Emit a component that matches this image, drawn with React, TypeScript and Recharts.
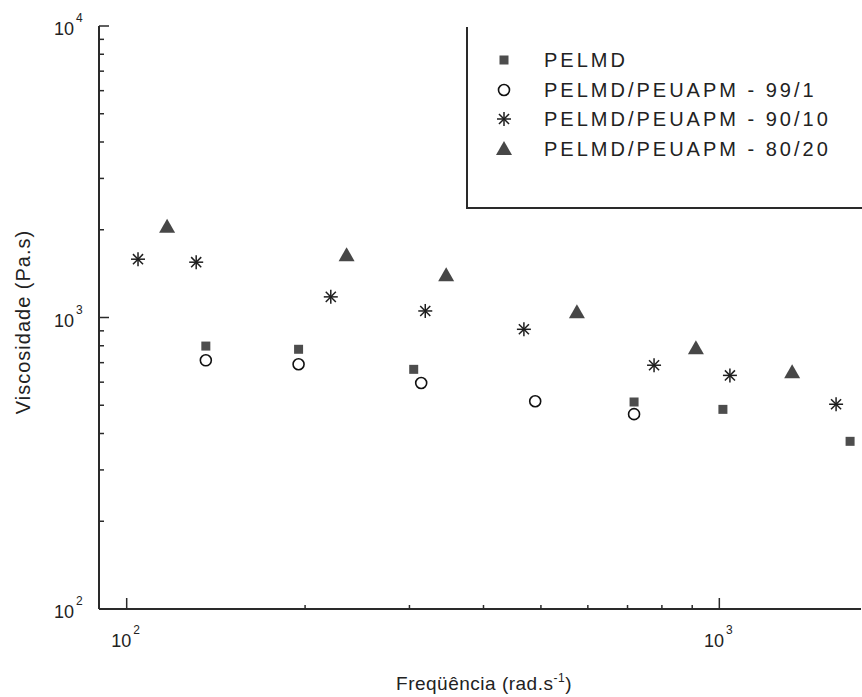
import { Label, Legend, Scatter, ScatterChart, XAxis, YAxis } from 'recharts';

// frequency (rad/s) and viscosity (Pa.s)
const PELMD_X = [136, 195, 305, 718, 1014, 1662];
const PELMD_Y = [798, 778, 664, 513, 484, 376];
const B99_X = [136, 195, 314, 489, 718];
const B99_Y = [713, 691, 596, 516, 466];
const B90_X = [104.5, 131, 221, 319, 468, 776, 1042, 1574];
const B90_Y = [1585, 1548, 1177, 1053, 911, 686, 633, 504];
const B80_X = [117, 235, 346, 575, 913, 1327];
const B80_Y = [2046, 1636, 1396, 1042, 784, 649];

const X_DOMAIN = [89.8, 1734];
const Y_DOMAIN = [100, 10000];
const X_TICKS = [100, 200, 300, 400, 500, 600, 700, 800, 900, 1000];
const Y_TICKS = [100, 200, 300, 400, 500, 600, 700, 800, 900, 1000, 2000, 3000, 4000, 5000, 6000, 7000, 8000, 9000, 10000];

const LABELS = ['PELMD', 'PELMD/PEUAPM - 99/1', 'PELMD/PEUAPM - 90/10', 'PELMD/PEUAPM - 80/20'];

const FONT = '"Liberation Sans", Arial, sans-serif';
const INK = '#2a2a2a';

const zip = (xs: number[], ys: number[]) => xs.map((x, i) => ({ x, y: ys[i] }));

const isMajor = (v: number) => Math.abs(Math.log10(v) - Math.round(Math.log10(v))) < 1e-9;
const exp = (v: number) => String(Math.round(Math.log10(v)));

function Square({ cx, cy }: any) {
  return <rect x={cx - 4.5} y={cy - 4.5} width={9} height={9} fill="#4d4d4d" />;
}
function Ring({ cx, cy }: any) {
  return <circle cx={cx} cy={cy} r={5.5} fill="#fff" stroke="#111" strokeWidth={1.6} />;
}
function Star({ cx, cy }: any) {
  const r = 7;
  const d = r * 0.72;
  return (
    <g stroke="#1e1e1e" strokeWidth={1.5}>
      <line x1={cx} y1={cy - r} x2={cx} y2={cy + r} />
      <line x1={cx - r} y1={cy} x2={cx + r} y2={cy} />
      <line x1={cx - d} y1={cy - d} x2={cx + d} y2={cy + d} />
      <line x1={cx - d} y1={cy + d} x2={cx + d} y2={cy - d} />
    </g>
  );
}
function Tri({ cx, cy }: any) {
  return <path d={`M${cx},${cy - 8} L${cx + 8},${cy + 6} L${cx - 8},${cy + 6} Z`} fill="#474747" />;
}

const SHAPES = [Square, Ring, Star, Tri];

function BottomTick({ x, y, payload }: any) {
  const major = isMajor(payload.value);
  return (
    <g>
      <line x1={x} y1={y} x2={x} y2={y - (major ? 11 : 4)} stroke={INK} strokeWidth={1.5} />
      {major && (
        <text x={x - 1} y={y + 38} textAnchor="middle" fontFamily={FONT} fontSize={18} fill="#222">
          10
          <tspan dx={2} dy={-13} fontSize={12}>{exp(payload.value)}</tspan>
        </text>
      )}
    </g>
  );
}

function TopTick({ x, y, payload }: any) {
  const major = isMajor(payload.value);
  return <line x1={x} y1={y} x2={x} y2={y + (major ? 12 : 6)} stroke={INK} strokeWidth={1.5} />;
}

function LeftTick({ x, y, payload }: any) {
  const major = isMajor(payload.value);
  return (
    <g>
      <line x1={x} y1={y} x2={x + (major ? 10 : 5)} y2={y} stroke={INK} strokeWidth={1.5} />
      {major && (
        <text x={x - 45} y={y + 9} fontFamily={FONT} fontSize={18} fill="#222">
          10
          <tspan dx={2} dy={-13} fontSize={12}>{exp(payload.value)}</tspan>
        </text>
      )}
    </g>
  );
}

function RightTick({ x, y, payload }: any) {
  const major = isMajor(payload.value);
  return <line x1={x} y1={y} x2={x - (major ? 10 : 5)} y2={y} stroke={INK} strokeWidth={1.5} />;
}

function XTitle({ viewBox }: any) {
  const cx = viewBox.x + viewBox.width / 2 + 4;
  return (
    <text x={cx} y={viewBox.y + 81} textAnchor="middle" fontFamily={FONT} fontSize={19} fill="#222" letterSpacing={0.5}>
      Freqüência (rad.s
      <tspan dy={-8} fontSize={12}>-1</tspan>
      <tspan dy={8}>)</tspan>
    </text>
  );
}

function YTitle() {
  return (
    <text
      x={0}
      y={0}
      transform="translate(30, 322) rotate(-90)"
      textAnchor="middle"
      fontFamily={FONT}
      fontSize={20}
      fill="#222"
      letterSpacing={1}
    >
      Viscosidade (Pa.s)
    </text>
  );
}

function LegendBox() {
  return (
    <div
      style={{
        position: 'relative',
        width: 396,
        height: 182,
        borderLeft: `2px solid ${INK}`,
        borderBottom: `2px solid ${INK}`,
        boxSizing: 'border-box',
        background: '#fff',
        fontFamily: FONT,
        fontSize: 20,
        letterSpacing: 3,
        color: '#222',
      }}
    >
      {LABELS.map((label, i) => {
        const Shape = SHAPES[i];
        return (
          <div
            key={label}
            style={{ position: 'absolute', left: 0, top: 18 + i * 29.7, height: 30, display: 'flex', alignItems: 'center', whiteSpace: 'nowrap' }}
          >
            <svg width={76} height={30} style={{ display: 'block' }}>
              <Shape cx={36} cy={15} />
            </svg>
            <span style={{ lineHeight: '30px' }}>{label}</span>
          </div>
        );
      })}
    </div>
  );
}

export default function App() {
  const series = [zip(PELMD_X, PELMD_Y), zip(B99_X, B99_Y), zip(B90_X, B90_Y), zip(B80_X, B80_Y)];
  const axisLine = { stroke: INK, strokeWidth: 2 };
  return (
    <div style={{ position: 'absolute', left: 0, top: 0, width: 862, height: 697, background: '#fff', overflow: 'hidden' }}>
      <ScatterChart width={862} height={697} margin={{ top: 26, right: 1, bottom: 0, left: 0 }}>
        <XAxis
          xAxisId="b"
          type="number"
          dataKey="x"
          scale="log"
          domain={X_DOMAIN}
          allowDataOverflow
          ticks={X_TICKS}
          interval={0}
          height={88}
          tickSize={0}
          tickMargin={0}
          tickLine={false}
          axisLine={axisLine}
          tick={<BottomTick />}
        >
          <Label content={<XTitle />} />
        </XAxis>
        <XAxis
          xAxisId="t"
          orientation="top"
          type="number"
          scale="log"
          domain={X_DOMAIN}
          allowDataOverflow
          ticks={X_TICKS}
          interval={0}
          height={0}
          tickSize={0}
          tickMargin={0}
          tickLine={false}
          axisLine={axisLine}
          tick={<TopTick />}
        />
        <YAxis
          yAxisId="l"
          type="number"
          dataKey="y"
          scale="log"
          domain={Y_DOMAIN}
          allowDataOverflow
          ticks={Y_TICKS}
          interval={0}
          width={99}
          tickSize={0}
          tickMargin={0}
          tickLine={false}
          axisLine={axisLine}
          tick={<LeftTick />}
        >
          <Label content={<YTitle />} />
        </YAxis>
        <YAxis
          yAxisId="r"
          orientation="right"
          type="number"
          scale="log"
          domain={Y_DOMAIN}
          allowDataOverflow
          ticks={Y_TICKS}
          interval={0}
          width={0}
          tickSize={0}
          tickMargin={0}
          tickLine={false}
          axisLine={axisLine}
          tick={<RightTick />}
        />
        {series.map((data, i) => {
          const Shape = SHAPES[i];
          return (
            <Scatter
              key={LABELS[i]}
              name={LABELS[i]}
              xAxisId="b"
              yAxisId="l"
              data={data}
              isAnimationActive={false}
              shape={(p: any) => <Shape cx={p.cx} cy={p.cy} />}
            />
          );
        })}
        <Legend
          layout="vertical"
          align="center"
          verticalAlign="middle"
          wrapperStyle={{ position: 'absolute', left: 466, top: 27, width: 396, height: 182 }}
          content={() => <LegendBox />}
        />
      </ScatterChart>
    </div>
  );
}
